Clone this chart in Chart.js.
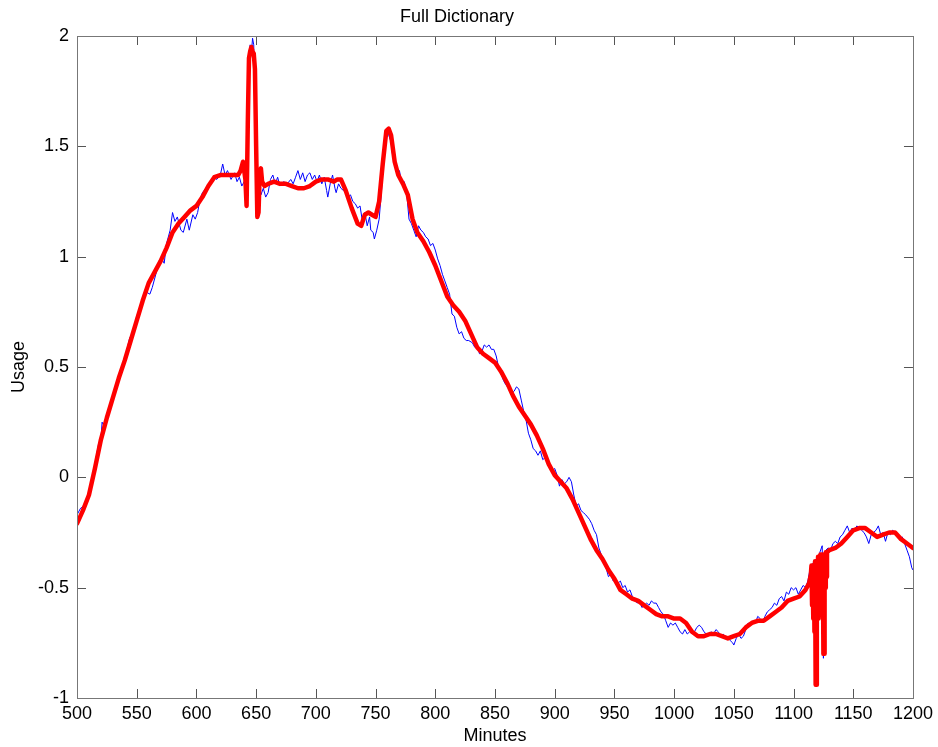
<!DOCTYPE html>
<html lang="en">
<head>
    <meta charset="UTF-8">
    <title>Full Dictionary</title>
    <style>
        body { margin: 0; background: #fff; }
        canvas { display: block; }
    </style>
    <script src="https://cdn.jsdelivr.net/npm/chart.js"></script>
</head>
<body>
    <canvas id="grafica" width="938" height="747"></canvas>

    <script>
        // blue: raw usage per minute
        const blueMinutes = [500,503,506,509,512,515,518,520,521,523,526,529,532,535,538,541,544,547,550,553,556,558,561,563,566,569,571,573,575,578,580,582,584,587,589,592,594,597,599,601,603,605,608,611,614,617,620,622,624,626,629,632,634,636,638,640,642,643,644,645,646,647,648,649,650,651,652,654,656,658,660,662,664,666,668,670,673,676,679,681,683,685,687,689,691,693,695,697,699,701,703,705,707,709,710,712,714,716,717,719,721,723,725,727,729,731,733,735,737,739,741,743,745,746,748,749,751,753,755,757,759,761,763,764,766,768,770,772,774,776,778,780,782,784,786,788,790,792,794,796,798,800,802,804,806,808,810,812,814,816,818,820,822,824,826,828,831,833,835,837,839,841,843,845,847,849,851,853,855,857,859,862,864,866,868,870,872,874,876,878,880,882,884,886,888,890,892,894,896,898,900,902,904,906,908,910,912,914,916,918,920,922,924,926,929,931,933,935,937,939,941,943,945,947,949,951,953,955,957,959,961,963,965,967,969,971,973,975,977,979,981,983,985,987,989,991,993,995,997,999,1001,1003,1005,1007,1009,1011,1013,1015,1017,1019,1021,1023,1025,1027,1029,1031,1033,1035,1037,1039,1041,1043,1045,1047,1049,1050,1052,1054,1056,1058,1060,1062,1064,1066,1068,1070,1072,1074,1076,1078,1080,1082,1084,1086,1088,1090,1092,1094,1096,1098,1100,1102,1104,1106,1108,1110,1112,1114,1116,1118,1120,1122,1124,1125,1126,1127,1129,1131,1133,1135,1137,1139,1141,1143,1145,1147,1149,1151,1153,1155,1157,1159,1161,1163,1165,1167,1169,1171,1173,1175,1177,1179,1181,1183,1185,1187,1189,1191,1193,1195,1197,1199,1200];
        const blueUsage = [-0.17,-0.14,-0.13,-0.09,-0.02,0.06,0.15,0.17,0.25,0.23,0.28,0.34,0.40,0.44,0.50,0.56,0.63,0.66,0.73,0.77,0.80,0.84,0.83,0.86,0.92,0.98,0.99,0.97,1.06,1.12,1.20,1.16,1.18,1.12,1.11,1.17,1.12,1.19,1.17,1.20,1.26,1.29,1.31,1.33,1.36,1.35,1.37,1.42,1.37,1.39,1.35,1.38,1.34,1.36,1.32,1.34,1.30,1.50,1.85,1.96,1.92,1.99,1.96,1.70,1.40,1.31,1.33,1.28,1.31,1.27,1.29,1.35,1.37,1.33,1.36,1.32,1.34,1.33,1.35,1.33,1.36,1.39,1.35,1.38,1.34,1.37,1.38,1.35,1.37,1.34,1.37,1.33,1.36,1.30,1.27,1.33,1.37,1.31,1.29,1.33,1.31,1.30,1.29,1.27,1.28,1.25,1.24,1.22,1.23,1.16,1.20,1.14,1.18,1.12,1.11,1.08,1.12,1.17,1.30,1.48,1.57,1.55,1.52,1.47,1.42,1.40,1.39,1.33,1.34,1.29,1.17,1.15,1.12,1.09,1.14,1.12,1.11,1.09,1.08,1.05,1.06,1.03,0.99,0.96,0.92,0.89,0.86,0.83,0.74,0.73,0.68,0.65,0.66,0.63,0.62,0.62,0.61,0.59,0.60,0.56,0.57,0.60,0.59,0.60,0.58,0.58,0.55,0.50,0.47,0.44,0.42,0.40,0.38,0.39,0.41,0.40,0.35,0.30,0.26,0.20,0.17,0.13,0.12,0.10,0.12,0.08,0.09,0.06,0.05,0.03,0.04,0.01,-0.04,-0.01,-0.03,-0.02,0.00,-0.02,-0.08,-0.13,-0.12,-0.15,-0.16,-0.17,-0.19,-0.21,-0.24,-0.26,-0.32,-0.35,-0.38,-0.41,-0.45,-0.44,-0.47,-0.46,-0.48,-0.47,-0.50,-0.49,-0.52,-0.51,-0.54,-0.55,-0.57,-0.56,-0.59,-0.58,-0.57,-0.58,-0.56,-0.57,-0.57,-0.59,-0.61,-0.62,-0.65,-0.68,-0.66,-0.67,-0.66,-0.68,-0.70,-0.71,-0.69,-0.71,-0.70,-0.71,-0.70,-0.68,-0.67,-0.68,-0.70,-0.71,-0.71,-0.70,-0.71,-0.69,-0.70,-0.72,-0.71,-0.73,-0.72,-0.74,-0.75,-0.76,-0.73,-0.71,-0.73,-0.72,-0.69,-0.66,-0.67,-0.65,-0.66,-0.63,-0.64,-0.66,-0.63,-0.61,-0.60,-0.59,-0.57,-0.58,-0.55,-0.54,-0.56,-0.52,-0.53,-0.50,-0.51,-0.50,-0.53,-0.51,-0.49,-0.50,-0.47,-0.41,-0.39,-0.40,-0.38,-0.34,-0.31,-0.82,-0.60,-0.33,-0.32,-0.33,-0.30,-0.29,-0.30,-0.27,-0.26,-0.24,-0.22,-0.25,-0.23,-0.24,-0.22,-0.23,-0.24,-0.25,-0.27,-0.30,-0.26,-0.25,-0.24,-0.22,-0.26,-0.25,-0.29,-0.25,-0.26,-0.24,-0.25,-0.26,-0.28,-0.27,-0.30,-0.33,-0.36,-0.41,-0.42];

        // red: smoothed usage
        const redMinutes = [500,505,510,515,520,525,530,535,540,545,550,555,560,565,570,575,580,585,590,595,600,605,610,615,620,625,630,635,637,639,641,642,643,644,645,646,647,648,649,650,651,652,653,654,655,657,660,665,670,675,680,685,690,695,700,705,710,715,718,721,725,730,735,738,741,744,747,750,753,756,759,761,763,766,769,773,777,781,785,790,795,800,805,810,815,820,825,830,835,840,845,850,855,860,865,870,875,880,885,890,895,900,905,910,915,920,925,930,935,940,945,950,955,960,965,970,975,980,985,990,995,1000,1005,1010,1015,1020,1025,1030,1035,1040,1045,1050,1055,1060,1065,1070,1075,1080,1085,1090,1095,1100,1105,1110,1113,1114.5,1115,1115.5,1116,1116.5,1117,1117.5,1118,1118.5,1119,1119.5,1120,1120.5,1121,1121.5,1122,1122.5,1123,1123.5,1124,1124.5,1125,1125.5,1126,1126.5,1127,1127.5,1128,1130,1135,1140,1145,1150,1155,1160,1165,1170,1175,1180,1185,1190,1195,1200];
        const redUsage = [-0.21,-0.15,-0.08,0.04,0.17,0.27,0.36,0.45,0.53,0.62,0.71,0.80,0.88,0.93,0.98,1.04,1.11,1.15,1.18,1.21,1.23,1.27,1.32,1.36,1.37,1.37,1.37,1.37,1.39,1.43,1.35,1.23,1.60,1.90,1.93,1.95,1.93,1.92,1.85,1.50,1.18,1.20,1.38,1.40,1.34,1.32,1.33,1.34,1.33,1.33,1.32,1.31,1.31,1.32,1.34,1.35,1.35,1.34,1.35,1.35,1.30,1.22,1.15,1.14,1.19,1.20,1.19,1.18,1.25,1.42,1.57,1.58,1.55,1.43,1.37,1.33,1.28,1.17,1.11,1.07,1.02,0.96,0.89,0.82,0.78,0.75,0.71,0.65,0.59,0.56,0.54,0.52,0.48,0.43,0.37,0.32,0.28,0.24,0.19,0.13,0.06,0.01,-0.02,-0.05,-0.10,-0.16,-0.22,-0.28,-0.33,-0.37,-0.42,-0.46,-0.51,-0.53,-0.55,-0.56,-0.58,-0.60,-0.62,-0.63,-0.63,-0.64,-0.64,-0.66,-0.70,-0.72,-0.72,-0.71,-0.71,-0.72,-0.73,-0.72,-0.71,-0.68,-0.66,-0.65,-0.65,-0.63,-0.61,-0.59,-0.56,-0.55,-0.54,-0.51,-0.48,-0.44,-0.40,-0.58,-0.40,-0.64,-0.40,-0.70,-0.38,-0.94,-0.94,-0.40,-0.58,-0.36,-0.64,-0.36,-0.60,-0.35,-0.62,-0.35,-0.60,-0.35,-0.80,-0.80,-0.35,-0.50,-0.34,-0.45,-0.34,-0.33,-0.32,-0.30,-0.27,-0.24,-0.23,-0.23,-0.25,-0.27,-0.26,-0.25,-0.25,-0.28,-0.30,-0.32];

        const xTicks = [500,550,600,650,700,750,800,850,900,950,1000,1050,1100,1150,1200];
        const yTicks = [-1,-0.5,0,0.5,1,1.5,2];

        const fuente = "'Liberation Sans', Arial, sans-serif";

        // MATLAB style box with inward ticks on all four sides
        const cajaMatlab = {
            id: 'cajaMatlab',
            afterDraw(chart) {
                const { ctx, chartArea: a, scales } = chart;
                const largo = 9;
                ctx.save();
                ctx.strokeStyle = '#555';
                ctx.lineWidth = 1;
                ctx.beginPath();
                xTicks.forEach(v => {
                    const px = Math.round(scales.x.getPixelForValue(v)) + 0.5;
                    ctx.moveTo(px, a.bottom); ctx.lineTo(px, a.bottom - largo);
                    ctx.moveTo(px, a.top); ctx.lineTo(px, a.top + largo);
                });
                yTicks.forEach(v => {
                    const py = Math.round(scales.y.getPixelForValue(v)) + 0.5;
                    ctx.moveTo(a.left, py); ctx.lineTo(a.left + largo, py);
                    ctx.moveTo(a.right, py); ctx.lineTo(a.right - largo, py);
                });
                ctx.stroke();
                ctx.strokeStyle = '#777';
                ctx.strokeRect(Math.round(a.left) + 0.5, Math.round(a.top) + 0.5,
                    Math.round(a.right - a.left), Math.round(a.bottom - a.top));
                ctx.restore();
            }
        };

        const ctx = document.getElementById('grafica').getContext('2d');
        const chart = new Chart(ctx, {
            type: 'line',
            data: {
                datasets: [
                    {
                        label: 'smoothed',
                        data: redMinutes.map((m, i) => ({ x: m, y: redUsage[i] })),
                        borderColor: '#ff0000',
                        borderWidth: 4.5,
                        borderJoinStyle: 'round',
                        borderCapStyle: 'round',
                        pointRadius: 0,
                        tension: 0,
                        order: 1
                    },
                    {
                        label: 'raw',
                        data: blueMinutes.map((m, i) => ({ x: m, y: blueUsage[i] })),
                        borderColor: '#0000ff',
                        borderWidth: 1,
                        pointRadius: 0,
                        tension: 0,
                        order: 2
                    }
                ]
            },
            options: {
                responsive: false,
                animation: false,
                layout: { padding: { left: 0, right: 24, top: 0, bottom: 0 } },
                plugins: {
                    legend: { display: false },
                    tooltip: { enabled: false },
                    title: {
                        display: true,
                        text: 'Full Dictionary',
                        color: '#000',
                        font: { family: fuente, size: 18, weight: 'normal', lineHeight: 1.2 },
                        padding: { top: 6, bottom: 8.4 }
                    }
                },
                scales: {
                    x: {
                        type: 'linear',
                        min: 500,
                        max: 1200,
                        afterBuildTicks: s => { s.ticks = xTicks.map(v => ({ value: v })); },
                        afterFit: s => { s.height = 49; },
                        grid: { display: false, drawTicks: false },
                        border: { display: false },
                        ticks: {
                            color: '#000',
                            padding: 5,
                            maxRotation: 0,
                            autoSkip: false,
                            font: { family: fuente, size: 18 },
                            callback: v => String(v)
                        },
                        title: {
                            display: true,
                            text: 'Minutes',
                            color: '#000',
                            font: { family: fuente, size: 18 },
                            padding: { top: 0, bottom: 0 }
                        }
                    },
                    y: {
                        min: -1,
                        max: 2,
                        afterBuildTicks: s => { s.ticks = yTicks.map(v => ({ value: v })); },
                        afterFit: s => { s.width = 77; },
                        grid: { display: false, drawTicks: false },
                        border: { display: false },
                        ticks: {
                            color: '#000',
                            padding: 8,
                            font: { family: fuente, size: 18 },
                            callback: v => String(v)
                        },
                        title: {
                            display: true,
                            text: 'Usage',
                            color: '#000',
                            font: { family: fuente, size: 18 },
                            padding: { top: 8, bottom: 0 }
                        }
                    }
                }
            },
            plugins: [cajaMatlab]
        });
    </script>
</body>
</html>
